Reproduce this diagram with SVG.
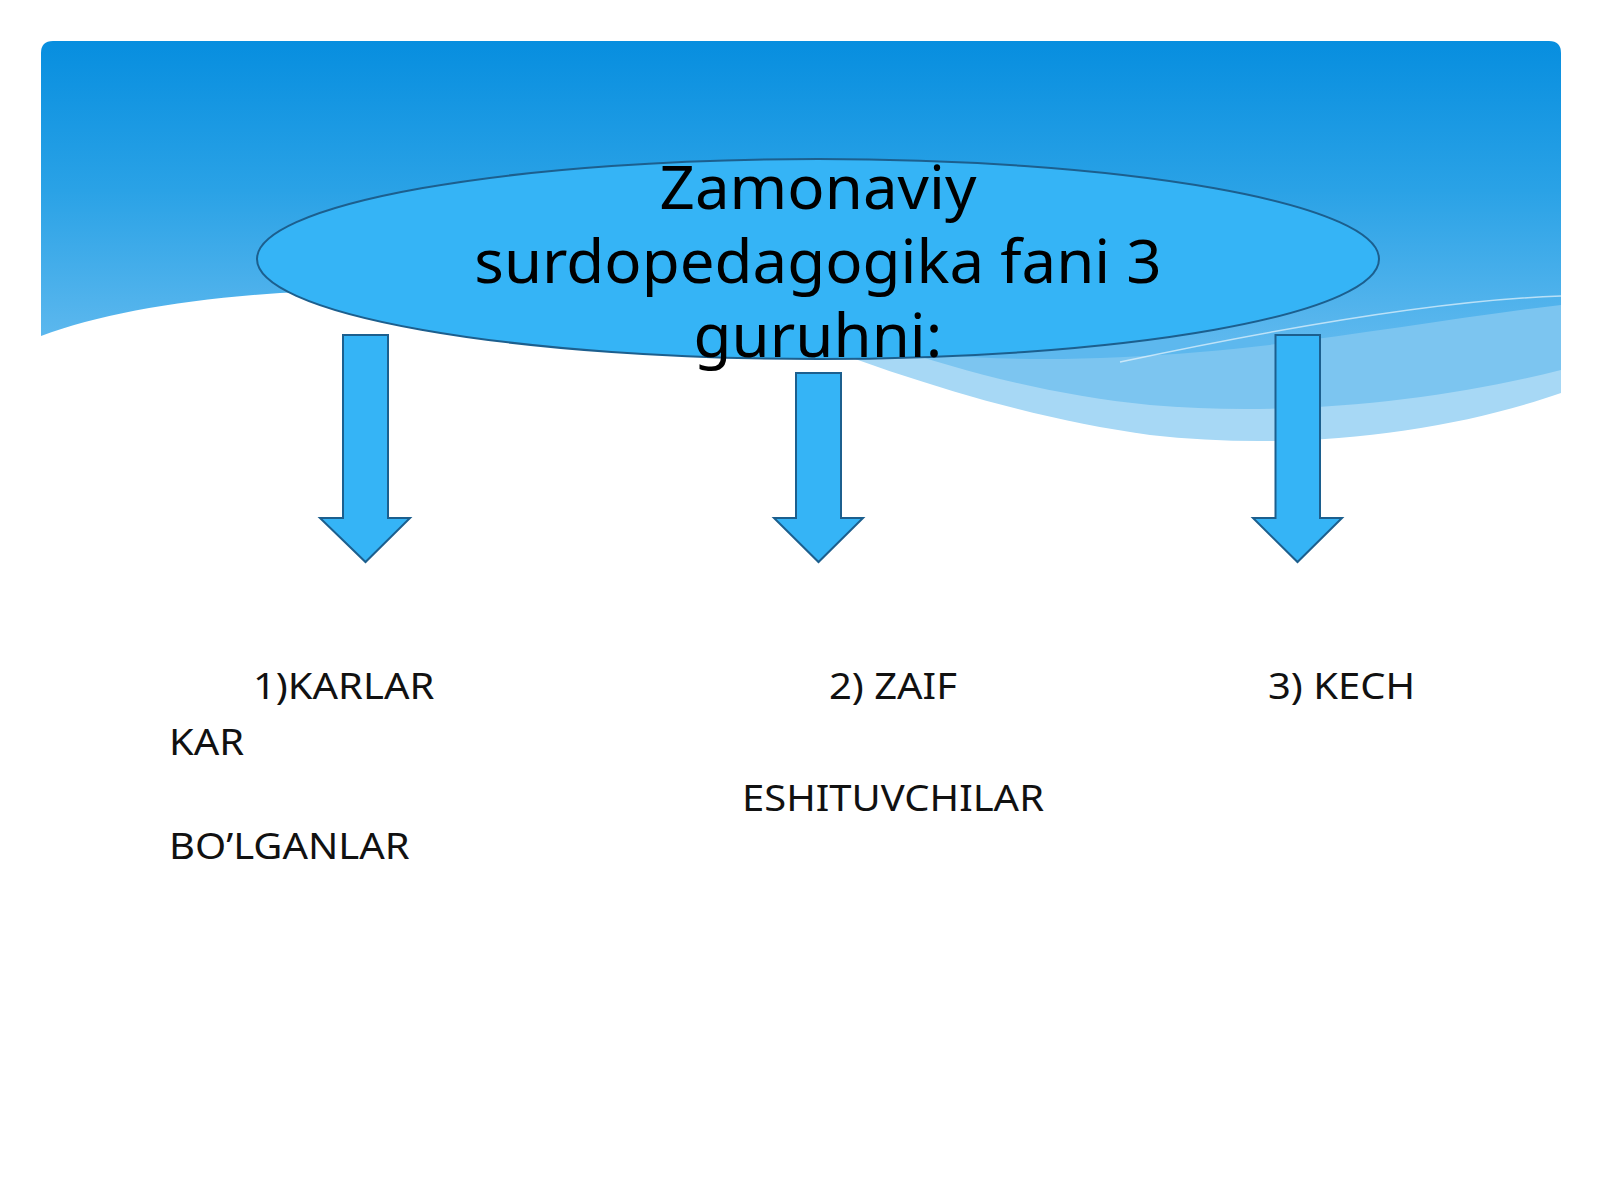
<svg xmlns="http://www.w3.org/2000/svg" width="1600" height="1200" viewBox="0 0 1600 1200">
<defs>
<linearGradient id="sky" x1="0" y1="41" x2="0" y2="340" gradientUnits="userSpaceOnUse">
<stop offset="0" stop-color="#078edf"/>
<stop offset="0.5" stop-color="#2aa2e6"/>
<stop offset="1" stop-color="#5db8ee"/>
</linearGradient>
<style>
.shape{fill:#35b4f6;stroke:#1c5f8e;stroke-width:2}
.title{font-family:"Noto Sans","Open Sans",sans-serif;font-size:60px;fill:#000;text-anchor:middle}
.lbl{font-family:"Noto Sans","Open Sans",sans-serif;font-size:37px;fill:#111}
</style>
</defs>
<rect x="0" y="0" width="1600" height="1200" fill="#ffffff"/>
<g id="background">
<path d="M700,300 C850,360 1000,415 1150,435 C1300,452 1450,432 1561,393 V250 H700 Z" fill="#a7d8f5"/>
<path d="M760,300 C880,345 1000,390 1150,405 C1300,418 1450,398 1561,370 V250 H760 Z" fill="#7cc5f0"/>
<path d="M41,53 Q41,41 53,41 H1549 Q1561,41 1561,53 V305 C1450,318 1320,342 1200,352 C1060,364 950,360 860,345 C700,318 460,282 280,293 C180,300 100,314 41,336 Z" fill="url(#sky)"/>
<path d="M1120,362 C1280,328 1440,300 1561,296" fill="none" stroke="#ffffff" stroke-opacity="0.6" stroke-width="1.5"/>
</g>
<g id="connectors">
<path class="shape" d="M343,335 H388 V518 H410 L365.5,562 L320,518 H343 Z"/>
<path class="shape" d="M796,373 H841 V518 H863 L818.5,562 L774,518 H796 Z"/>
<path class="shape" d="M1275.5,335 H1320 V518 H1342 L1297.5,562 L1253,518 H1275.5 Z"/>
</g>
<g id="node-title">
<ellipse class="shape" cx="818" cy="259" rx="561" ry="100"/>
<text class="title" transform="translate(818,209) scale(1.03,1)">Zamonaviy</text>
<text class="title" transform="translate(818,283) scale(1.03,1)">surdopedagogika fani 3</text>
<text class="title" transform="translate(818,357) scale(1.03,1)">guruhni:</text>
</g>
<g id="node-1">
<text class="lbl" transform="translate(253,699) scale(1.08,1)">1)KARLAR</text>
<text class="lbl" transform="translate(169,755) scale(1.08,1)">KAR</text>
<text class="lbl" transform="translate(169,859) scale(1.08,1)">BO’LGANLAR</text>
</g>
<g id="node-2">
<text class="lbl" transform="translate(829,699) scale(1.08,1)">2) ZAIF</text>
<text class="lbl" transform="translate(742,811) scale(1.08,1)">ESHITUVCHILAR</text>
</g>
<g id="node-3">
<text class="lbl" transform="translate(1268,699) scale(1.08,1)">3) KECH</text>
</g>
</svg>
